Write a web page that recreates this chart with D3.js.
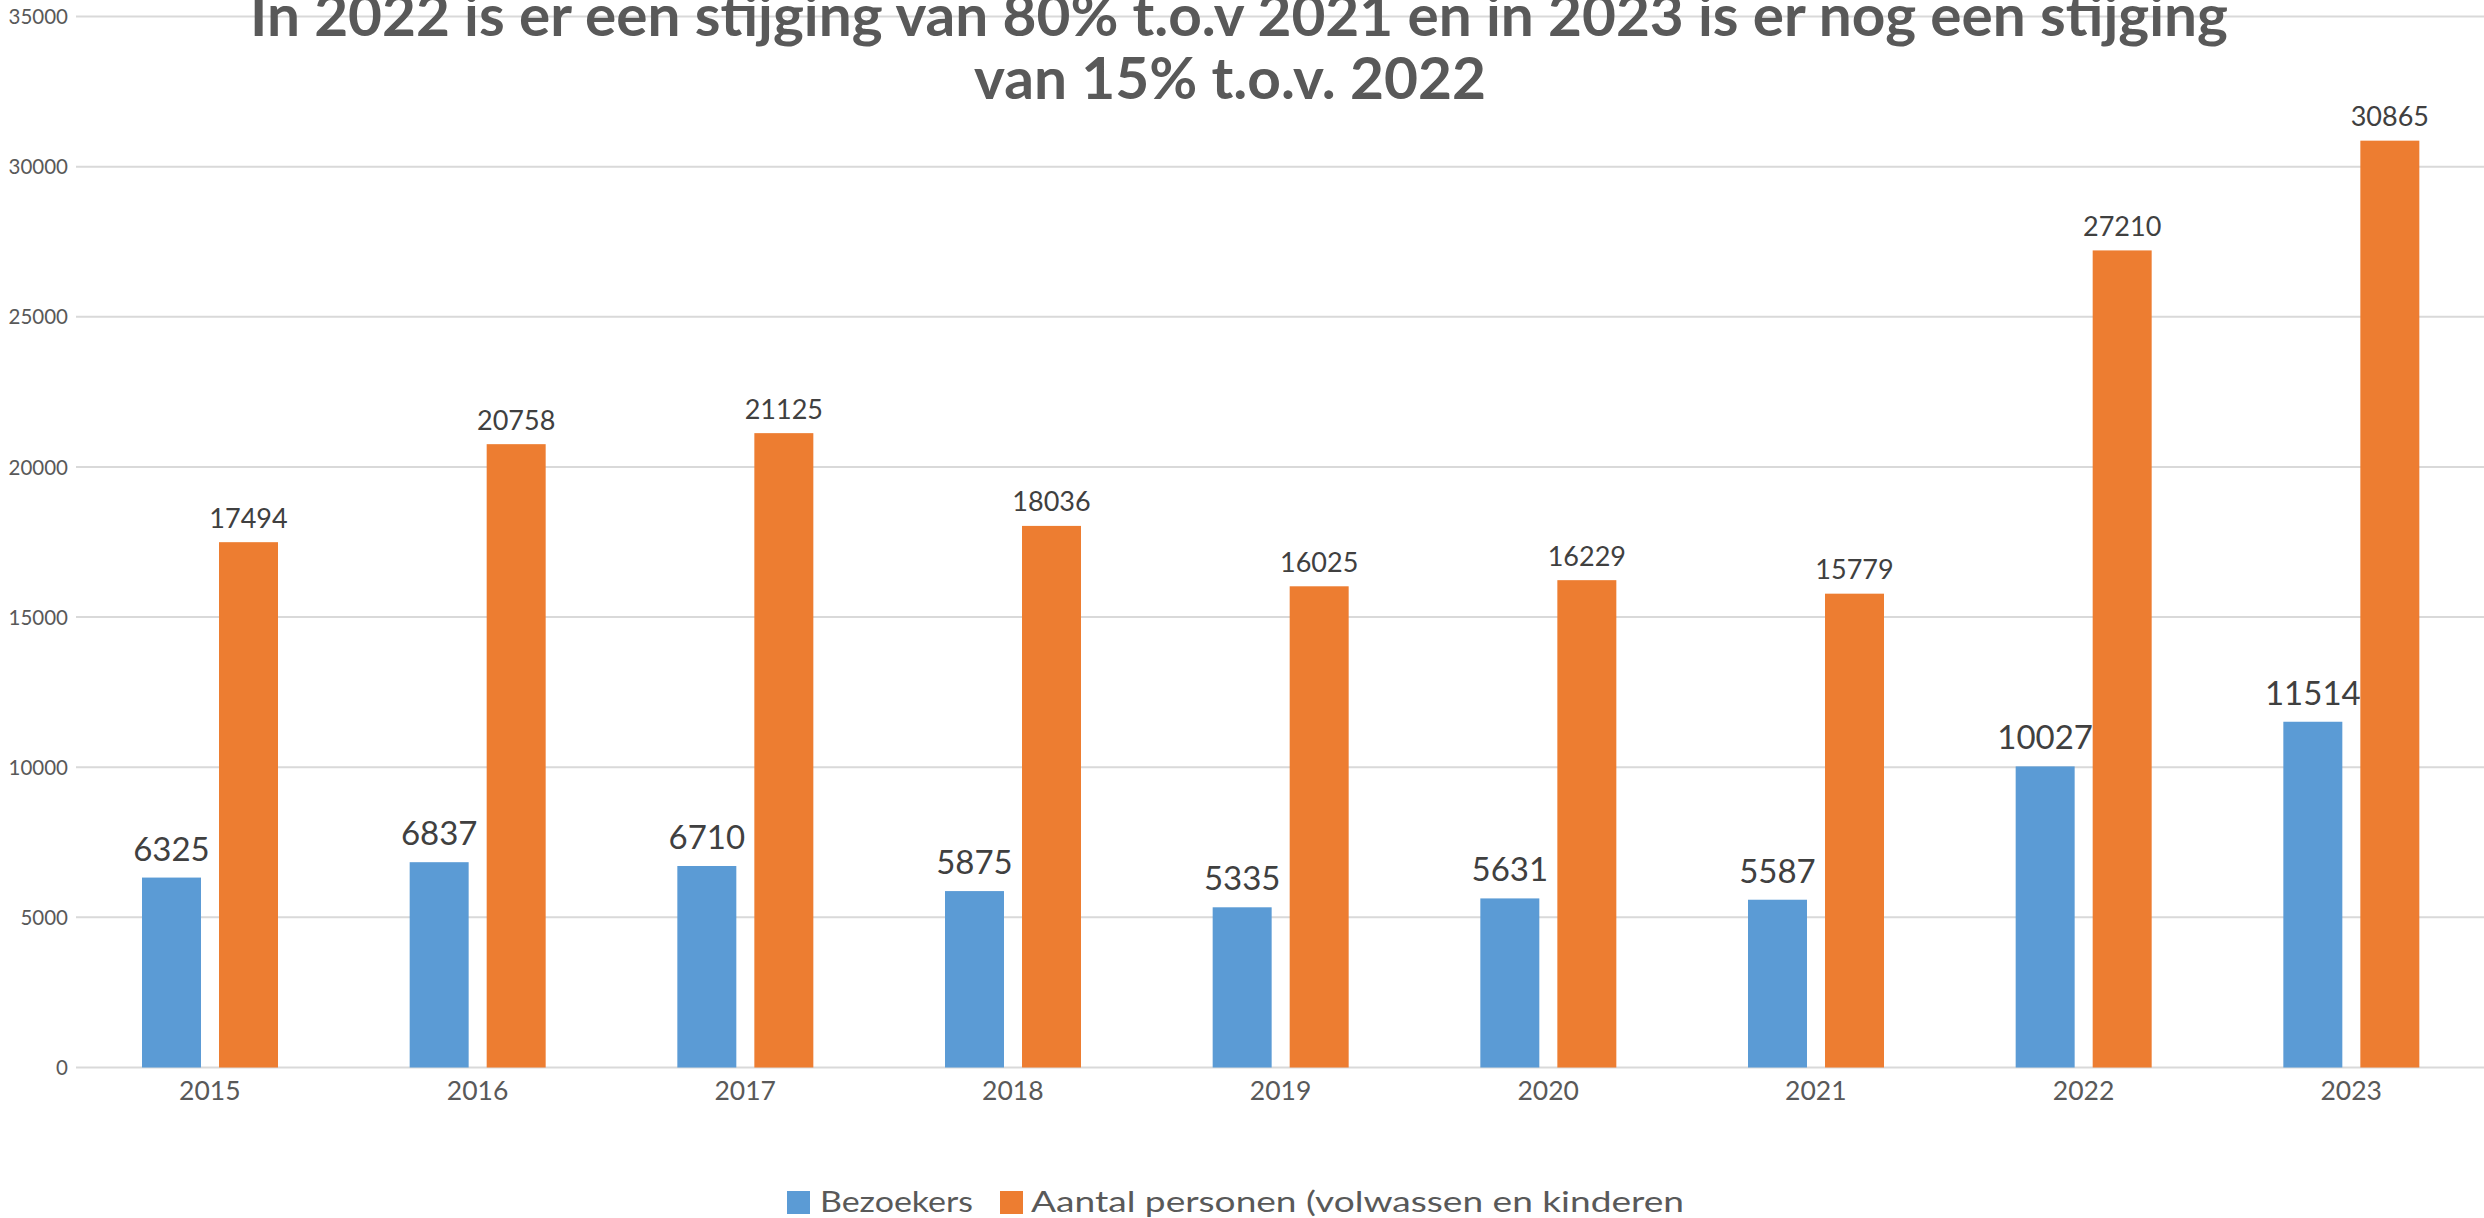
<!DOCTYPE html>
<html>
<head>
<meta charset="utf-8">
<script src="https://cdn.jsdelivr.net/npm/d3@7/dist/d3.min.js"></script>
<style>
  html, body { margin: 0; padding: 0; background: #ffffff; }
  svg { display: block; }
  text { font-family: Lato, "Open Sans", "DejaVu Sans", sans-serif; }
</style>
</head>
<body>
<svg id="chart" width="2484" height="1218"></svg>
<script>
// ---- data ----
const years = ["2015", "2016", "2017", "2018", "2019", "2020", "2021", "2022", "2023"];
const bezoekers = [6325, 6837, 6710, 5875, 5335, 5631, 5587, 10027, 11514];
const aantalPersonen = [17494, 20758, 21125, 18036, 16025, 16229, 15779, 27210, 30865];
const seriesNames = ["Bezoekers", "Aantal personen (volwassen en kinderen"];
const yTicks = [0, 5000, 10000, 15000, 20000, 25000, 30000, 35000];
const titleLines = ["In 2022 is er een stijging van 80% t.o.v 2021 en in 2023 is er nog een stijging", "van 15% t.o.v. 2022"];

const colors = ["#5B9BD5", "#ED7D31"];

const svg = d3.select("#chart");
svg.append("rect").attr("width", 2484).attr("height", 1218).attr("fill", "#ffffff");

const plotLeft = 76, plotRight = 2485, plotTop = 16.5, plotBottom = 1067.5;

const x = d3.scaleBand().domain(years).range([plotLeft, plotRight]).paddingInner(0).paddingOuter(0);
const xs = d3.scaleBand().domain(seriesNames).range([66, 202]).paddingInner(0.234).paddingOuter(0);
const y = d3.scaleLinear().domain([0, 35000]).range([plotBottom, plotTop]);

// gridlines
svg.append("g").selectAll("line").data(yTicks).join("line")
  .attr("x1", plotLeft).attr("x2", 2484)
  .attr("y1", d => y(d)).attr("y2", d => y(d))
  .attr("stroke", "#d9d9d9").attr("stroke-width", 2);

// y axis labels
const yAxis = d3.axisLeft(y).tickValues(yTicks).tickSize(0).tickPadding(0).tickFormat(d3.format("d"));
const gy = svg.append("g").attr("transform", "translate(68,0)").call(yAxis);
gy.select(".domain").remove();
gy.selectAll("text").attr("fill", "#595959").attr("font-size", 20.5)
  .attr("font-family", "Lato, 'Open Sans', sans-serif").attr("dy", "0.35em").attr("x", 0);

// x axis labels
const xAxis = d3.axisBottom(x).tickSize(0).tickPadding(0);
const gx = svg.append("g").attr("transform", `translate(0,${plotBottom})`).call(xAxis);
gx.select(".domain").remove();
gx.selectAll("text").attr("fill", "#595959").attr("font-size", 26.5)
  .attr("font-family", "Lato, 'Open Sans', sans-serif").attr("dy", 0).attr("y", 32.5);

// bars
const seriesData = [bezoekers, aantalPersonen];
const labelSize = [33, 27];
const labelGap = [17, 14.5];
seriesData.forEach((vals, si) => {
  const g = svg.append("g");
  const rows = years.map((yr, i) => ({ yr, v: vals[i] }));
  g.selectAll("rect").data(rows).join("rect")
    .attr("x", d => x(d.yr) + xs(seriesNames[si]))
    .attr("width", xs.bandwidth())
    .attr("y", d => y(d.v))
    .attr("height", d => y(0) - y(d.v))
    .attr("fill", colors[si]);
  g.selectAll("text").data(rows).join("text")
    .attr("x", d => x(d.yr) + xs(seriesNames[si]) + xs.bandwidth() / 2)
    .attr("y", d => y(d.v) - labelGap[si])
    .attr("text-anchor", "middle")
    .attr("font-size", labelSize[si])
    .attr("fill", "#404040")
    .text(d => d.v);
});

// title
const titleLayout = [{ cx: 1239, base: 36, len: 1978 }, { cx: 1230, base: 99, len: 512 }];
svg.append("g").selectAll("text").data(titleLines).join("text")
  .attr("x", (d, i) => titleLayout[i].cx)
  .attr("y", (d, i) => titleLayout[i].base)
  .attr("text-anchor", "middle")
  .attr("font-size", 57)
  .attr("font-weight", 700)
  .attr("fill", "#595959")
  .attr("textLength", (d, i) => titleLayout[i].len)
  .attr("lengthAdjust", "spacingAndGlyphs")
  .text(d => d);

// legend
const legendLayout = [{ sx: 787, tx: 820, len: 153 }, { sx: 1000, tx: 1031, len: 653 }];
const lg = svg.append("g");
seriesNames.forEach((name, i) => {
  lg.append("rect").attr("x", legendLayout[i].sx).attr("y", 1191).attr("width", 23).attr("height", 23)
    .attr("fill", colors[i]);
  lg.append("text").attr("x", legendLayout[i].tx).attr("y", 1212)
    .attr("font-size", 29).attr("fill", "#595959")
    .attr("textLength", legendLayout[i].len).attr("lengthAdjust", "spacingAndGlyphs")
    .text(name);
});
</script>
</body>
</html>
